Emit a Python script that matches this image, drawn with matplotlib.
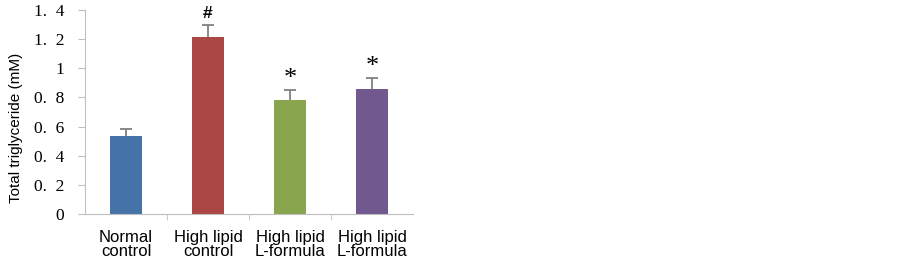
import matplotlib
matplotlib.use("Agg")
import matplotlib.pyplot as plt
import numpy as np

# data
groups = ["Normal\ncontrol", "High lipid\ncontrol", "High lipid\nL-formula", "High lipid\nL-formula"]
values = [0.535, 1.21, 0.78, 0.855]
errors = [0.05, 0.085, 0.073, 0.078]
marks = ["", "#", "*", "*"]
colors = ["#4572A7", "#AA4643", "#89A54E", "#71588F"]
yticks = [0, 0.2, 0.4, 0.6, 0.8, 1.0, 1.2, 1.4]
ylabels = ["0", "0.  2", "0.  4", "0.  6", "0.  8", "1", "1.  2", "1.  4"]

fig = plt.figure(figsize=(9.03, 2.59), dpi=100)
ax = fig.add_axes([85 / 903, 1 - 214.3 / 259, 328 / 903, 204.8 / 259])

x = np.arange(len(values))
ax.bar(x, values, width=0.39, color=colors, zorder=2)
eb = ax.errorbar(x, values, yerr=[np.zeros(len(errors)), errors], fmt="none",
                 ecolor="#808080", elinewidth=1.3, capsize=4, capthick=1.3, zorder=3)
# only keep the upper cap
eb[1][0].set_visible(False)

# significance marks
for xi, v, e, m in zip(x, values, errors, marks):
    if m == "#":
        ax.text(xi, v + e + 0.025, m, ha="center", va="bottom", fontsize=12.5,
                family="Liberation Sans", fontweight="bold")
    elif m == "*":
        ax.text(xi, v + e + 0.0, m, ha="center", va="bottom", fontsize=19,
                family="Liberation Serif")

ax.set_xlim(-0.5, len(values) - 0.5)
ax.set_ylim(0, 1.4)
ax.set_yticks(yticks)
ax.set_yticklabels(ylabels, family="Liberation Serif", fontsize=12.5)
ax.set_xticks(x)
ax.set_xticklabels(groups, family="Liberation Sans", fontsize=12, linespacing=0.88)
ax.tick_params(axis="x", length=0, pad=11.5)
ax.set_xticks(np.arange(0.5, len(values) - 1, 1), minor=True)
ax.tick_params(axis="x", which="minor", length=4, color="#bfbfbf", direction="out")
ax.tick_params(axis="y", length=5, color="#bfbfbf", pad=10)

for s in ["top", "right"]:
    ax.spines[s].set_visible(False)
for s in ["left", "bottom"]:
    ax.spines[s].set_color("#bfbfbf")

ax.set_ylabel("Total triglyceride (mM)", family="Liberation Sans", fontsize=11)
ax.yaxis.set_label_coords(-62 / 328, 0.42)

fig.savefig("out.png", dpi=100)
